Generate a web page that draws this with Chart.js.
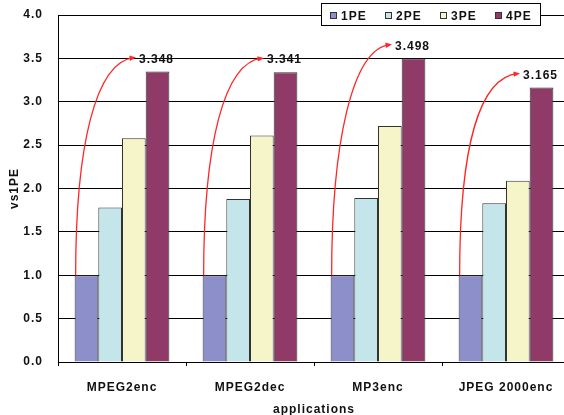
<!DOCTYPE html>
<html>
<head>
<meta charset="utf-8">
<script src="https://cdn.jsdelivr.net/npm/chart.js@4/dist/chart.umd.min.js"></script>
<style>
  html, body { margin: 0; padding: 0; background: #fff; }
  #wrap { width: 564px; height: 415px; overflow: hidden; position: relative; }
  #wrap canvas { position: absolute; left: 0; top: 0; }
</style>
</head>
<body>
<div id="wrap"><canvas id="grafico" width="572" height="415"></canvas></div>
<script>
// dados
const categorias = ['MPEG2enc', 'MPEG2dec', 'MP3enc', 'JPEG 2000enc'];
const series = ['1PE', '2PE', '3PE', '4PE'];
const pe1 = [1.0, 1.0, 1.0, 1.0];
const pe2 = [1.78, 1.88, 1.89, 1.83];
const pe3 = [2.58, 2.61, 2.72, 2.09];
const pe4 = [3.348, 3.341, 3.498, 3.165];
const yTicks = [0, 0.5, 1.0, 1.5, 2.0, 2.5, 3.0, 3.5, 4.0];

const cores = ['#8c8fc9', '#c4e6ea', '#f6f5c9', '#8f3a67'];
const FAMILIA = "'Liberation Sans', Arial, sans-serif";
const FONTE = "bold 12px " + FAMILIA;
const ESPACO = '1px';

// espacamento entre letras (o original tem texto bem espaçado)
function setSpacing(chart) {
    chart.ctx.letterSpacing = ESPACO;
}

const extras = {
    id: 'extras',
    beforeLayout: setSpacing,
    beforeDraw: setSpacing,
    afterDatasetsDraw(chart) {
        const ctx = chart.ctx;
        const m1 = chart.getDatasetMeta(0).data;
        const m4 = chart.getDatasetMeta(3).data;
        ctx.save();
        ctx.letterSpacing = ESPACO;
        ctx.font = FONTE;
        ctx.textAlign = 'center';
        ctx.textBaseline = 'middle';
        m4.forEach((bar, i) => {
            const txt = pe4[i].toFixed(3);
            const lx = bar.x - 1;
            const ly = bar.y - 12;
            ctx.fillStyle = '#111';
            ctx.fillText(txt, lx, ly);

            // seta curva vermelha do 1PE ate o rotulo
            const w = ctx.measureText(txt).width;
            const x0 = m1[i].x - m1[i].width / 2 + 1;
            const y0 = m1[i].y;
            const x1 = lx - w / 2 - 5;
            const y1 = ly - 2;
            ctx.strokeStyle = '#ff2626';
            ctx.lineWidth = 1.3;
            ctx.beginPath();
            ctx.moveTo(x0, y0);
            ctx.bezierCurveTo(x0, y0 - 130, x0 + 20, y1 + 4, x1, y1);
            ctx.stroke();
            // ponta da seta
            const ang = Math.atan2(-4, x1 - (x0 + 20));
            const tx = x1 + 2, ty = y1;
            ctx.fillStyle = '#ff2626';
            ctx.beginPath();
            ctx.moveTo(tx, ty);
            ctx.lineTo(tx - 7 * Math.cos(ang - 0.4), ty - 7 * Math.sin(ang - 0.4));
            ctx.lineTo(tx - 7 * Math.cos(ang + 0.4), ty - 7 * Math.sin(ang + 0.4));
            ctx.closePath();
            ctx.fill();
        });
        ctx.restore();
    },
    afterDraw(chart) {
        // legenda dentro da area do grafico
        const ctx = chart.ctx;
        ctx.save();
        ctx.fillStyle = '#fff';
        ctx.fillRect(321, 3, 220, 22);
        ctx.strokeStyle = '#000';
        ctx.lineWidth = 1;
        ctx.strokeRect(321.5, 3.5, 219, 22);
        ctx.font = FONTE;
        ctx.letterSpacing = ESPACO;
        ctx.textBaseline = 'middle';
        ctx.textAlign = 'left';
        chart.data.datasets.forEach((ds, i) => {
            const x = 330 + i * 55;
            ctx.fillStyle = ds.backgroundColor;
            ctx.fillRect(x, 12, 7, 7);
            ctx.strokeStyle = '#333';
            ctx.strokeRect(x + 0.5, 12.5, 6, 6);
            ctx.fillStyle = '#111';
            ctx.fillText(ds.label, x + 11, 16.5);
        });
        ctx.restore();
    }
};

const valores = [pe1, pe2, pe3, pe4];
const fonteEixo = { family: FAMILIA, size: 12, weight: 'bold' };

new Chart(document.getElementById('grafico'), {
    type: 'bar',
    data: {
        labels: categorias,
        datasets: series.map((nome, i) => ({
            label: nome,
            data: valores[i],
            backgroundColor: cores[i],
            borderColor: '#333',
            borderWidth: 1,
            categoryPercentage: 0.74,
            barPercentage: 1.0
        }))
    },
    options: {
        responsive: false,
        animation: false,
        devicePixelRatio: 1,
        layout: { padding: { top: 15, right: 2, left: 0, bottom: 0 } },
        plugins: { legend: { display: false }, tooltip: { enabled: false } },
        scales: {
            x: {
                afterFit(s) { s.height = 53; s.paddingLeft = 0; s.paddingRight = 0; },
                grid: { drawOnChartArea: false, drawTicks: true, tickLength: 4, color: '#000' },
                border: { color: '#000', width: 1 },
                ticks: { color: '#111', font: fonteEixo, padding: 14 },
                title: {
                    display: true, text: 'applications', color: '#111',
                    font: fonteEixo,
                    padding: { top: 0, bottom: -2 }
                }
            },
            y: {
                min: 0, max: 4,
                afterFit(s) { s.width = 58; s.paddingTop = 0; s.paddingBottom = 0; },
                afterBuildTicks(s) { s.ticks = yTicks.map(v => ({ value: v })); },
                grid: { color: '#000', drawTicks: false },
                border: { color: '#000', width: 1 },
                ticks: {
                    color: '#111', padding: 15,
                    font: fonteEixo,
                    callback: v => v.toFixed(1)
                },
                title: {
                    display: true, text: 'vs1PE', color: '#111',
                    font: fonteEixo,
                    padding: { top: 7, bottom: 0 }
                }
            }
        }
    },
    plugins: [extras]
});
</script>
</body>
</html>
